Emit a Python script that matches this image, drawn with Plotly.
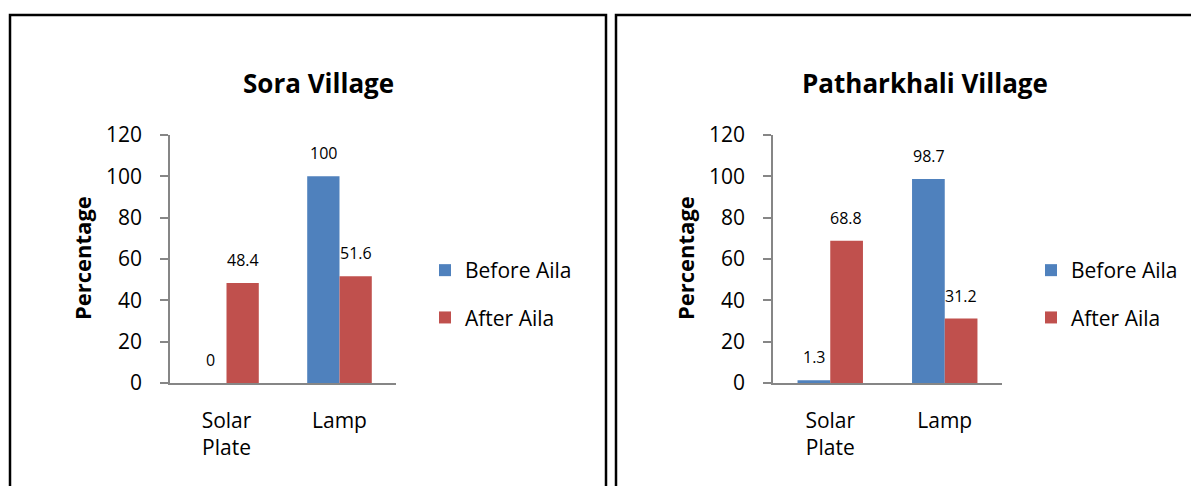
import plotly.graph_objects as go

# ---- data ----
categories = ["Solar Plate", "Lamp"]
category_labels = ["Solar<br>Plate", "Lamp"]
series_names = ["Before Aila", "After Aila"]
sora_before = [0, 100]
sora_after = [48.4, 51.6]
path_before = [1.3, 98.7]
path_after = [68.8, 31.2]
chart_titles = ["Sora Village", "Patharkhali Village"]
y_ticks = [0, 20, 40, 60, 80, 100, 120]
y_title = "Percentage"

# ---- style ----
OFF = 8  # page body margin
W, H = 1199 - OFF, 486 - OFF
BLUE = "#4F81BD"
RED = "#C0504D"
AXIS = "#868686"
FONT = "Open Sans"
colors = [BLUE, RED]


def px_x(p):
    return (p - OFF) / W


def px_y(p):
    return 1 - (p - OFF) / H


fig = go.Figure()

panels = [
    dict(xa="x", ya="y", data=[sora_before, sora_after], legend="legend",
         xdom=[px_x(170), px_x(396)], title=chart_titles[0], tx=318, lx=425),
    dict(xa="x2", ya="y2", data=[path_before, path_after], legend="legend2",
         xdom=[px_x(773), px_x(1002)], title=chart_titles[1], tx=925, lx=1031),
]

annotations = []
for p in panels:
    for s, (name, vals) in enumerate(zip(series_names, p["data"])):
        fig.add_trace(go.Bar(
            x=categories, y=vals, name=name, marker_color=colors[s],
            marker_line_width=0, xaxis=p["xa"], yaxis=p["ya"],
            legend=p["legend"], legendgroup=name,
        ))
        for c, v in zip(categories, vals):
            annotations.append(dict(
                x=c, y=v, xref=p["xa"], yref=p["ya"], text=f"{v:g}",
                showarrow=False, xshift=(-16 if s == 0 else 16), yshift=23,
                yanchor="middle", font=dict(family=FONT, size=16, color="black"),
            ))
    annotations.append(dict(
        x=px_x(p["tx"]), y=px_y(83), xref="paper", yref="paper",
        text=f"<b>{p['title']}</b>", showarrow=False, xanchor="center",
        yanchor="middle", font=dict(family=FONT, size=26, color="black"),
    ))
    annotations.append(dict(
        x=p["xdom"][0] - 88 / W, y=px_y(258), xref="paper", yref="paper",
        text=f"<b>{y_title}</b>", showarrow=False, textangle=-90,
        xanchor="center", yanchor="middle",
        font=dict(family=FONT, size=22, color="black"),
    ))

ydom = [px_y(383), px_y(135)]
common_y = dict(range=[0, 120], tickvals=y_ticks, showgrid=False, zeroline=False,
                showline=True, linecolor=AXIS, linewidth=1.5, ticks="outside",
                ticklen=8, tickcolor=AXIS, tickwidth=1.5, ticklabelstandoff=14,
                automargin=False,
                tickfont=dict(family=FONT, size=21, color="black"), domain=ydom)
common_x = dict(showgrid=False, zeroline=False, showline=True, linecolor=AXIS,
                linewidth=1.5, ticks="", tickvals=categories, ticktext=category_labels,
                ticklabelstandoff=18, automargin=False,
                tickfont=dict(family=FONT, size=21, color="black"))

legend_common = dict(xanchor="left", yanchor="middle",
                     font=dict(family=FONT, size=21, color="black"),
                     tracegroupgap=17, traceorder="grouped",
                     bgcolor="rgba(0,0,0,0)")

fig.update_layout(
    width=W, height=H, autosize=False,
    margin=dict(l=0, r=0, t=0, b=0, pad=0, autoexpand=False),
    paper_bgcolor="white", plot_bgcolor="white",
    barmode="group", bargap=1.5 / 3.5, bargroupgap=0,
    xaxis=dict(domain=panels[0]["xdom"], anchor="y", **common_x),
    yaxis=dict(anchor="x", **common_y),
    xaxis2=dict(domain=panels[1]["xdom"], anchor="y2", **common_x),
    yaxis2=dict(anchor="x2", **common_y),
    legend=dict(x=px_x(panels[0]["lx"]), y=px_y(294), **legend_common),
    legend2=dict(x=px_x(panels[1]["lx"]), y=px_y(294), **legend_common),
    annotations=annotations,
    shapes=[
        dict(type="rect", xref="paper", yref="paper", x0=px_x(10), x1=px_x(606),
             y0=-0.1, y1=px_y(15), line=dict(color="black", width=2.5)),
        dict(type="rect", xref="paper", yref="paper", x0=px_x(616), x1=px_x(1230),
             y0=-0.1, y1=px_y(15), line=dict(color="black", width=2.5)),
    ],
    showlegend=True,
)

fig.write_html("out.html")
